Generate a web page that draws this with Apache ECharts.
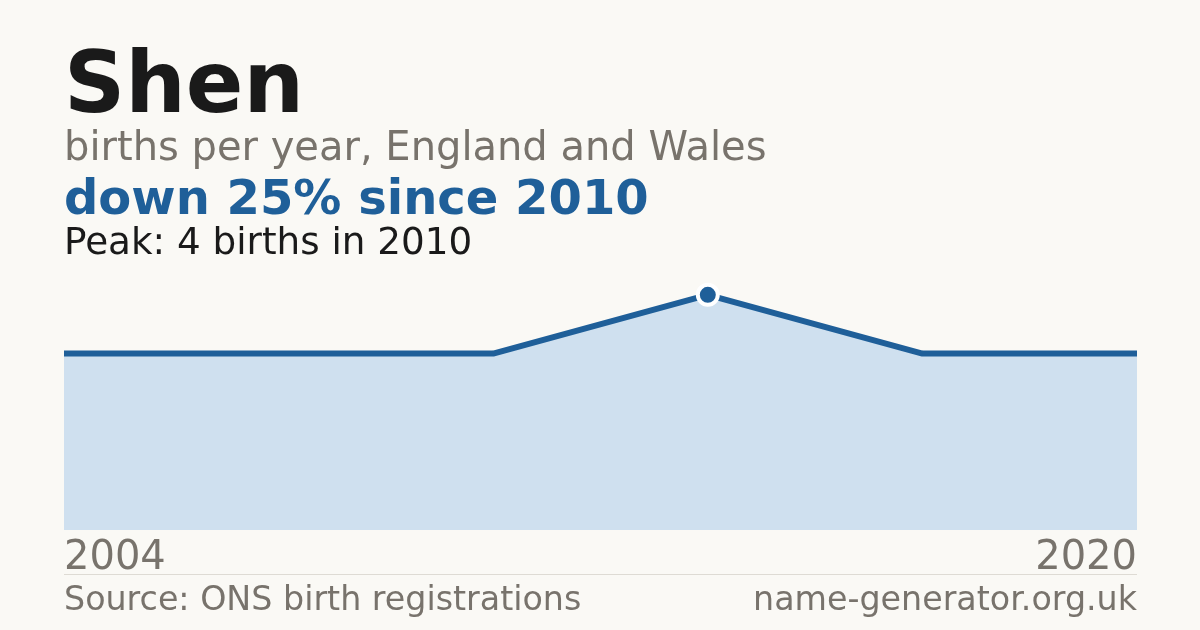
<!DOCTYPE html>
<html>
<head>
<meta charset="utf-8">
<script src="https://cdn.jsdelivr.net/npm/echarts@6/dist/echarts.min.js"></script>
<style>
html,body{margin:0;padding:0;background:#faf9f5;}
#c{width:1200px;height:630px;}
</style>
</head>
<body>
<div id="c"></div>
<script>
var years = ["2004", "2007", "2009", "2010", "2014", "2020"];
var births = [3, 3, 3, 4, 3, 3];
var peakIndex = 3;
var titleText = "Shen";
var subtitleText = "births per year, England and Wales";
var changeText = "down 25% since 2010";
var peakText = "Peak: 4 births in 2010";
var sourceText = "Source: ONS birth registrations";
var siteText = "name-generator.org.uk";

var FONT = "DejaVu Sans";
var BLUE = "#1f5f99";
var GRAY = "#78736c";

var chart = echarts.init(document.getElementById('c'), null, {renderer: 'canvas'});
var seriesData = births.map(function (v, i) {
  if (i === peakIndex) {
    return {value: v, symbol: 'circle', symbolSize: 20,
      itemStyle: {color: BLUE, borderColor: '#ffffff', borderWidth: 4}};
  }
  return {value: v, symbol: 'none'};
});

chart.setOption({
  backgroundColor: '#faf9f5',
  animation: false,
  grid: {left: 64, right: 63, top: 236, bottom: 100},
  xAxis: {
    type: 'category',
    data: years,
    boundaryGap: false,
    axisLine: {show: false},
    axisTick: {show: false},
    splitLine: {show: false},
    axisLabel: {
      interval: function (i) { return i === 0 || i === years.length - 1; },
      fontFamily: FONT, fontSize: 40, color: GRAY, margin: 9,
      alignMinLabel: 'left', alignMaxLabel: 'right'
    }
  },
  yAxis: {
    type: 'value', min: 0, max: 5,
    show: false, splitLine: {show: false}
  },
  series: [{
    type: 'line',
    data: seriesData,
    showSymbol: true,
    lineStyle: {color: BLUE, width: 6},
    areaStyle: {color: '#cfe0ef', opacity: 1},
    z: 3
  }],
  graphic: [
    {type: 'text', left: 64, top: 47, style: {text: titleText, font: 'bold 85px "DejaVu Sans"', fill: '#1a1a1a'}},
    {type: 'text', left: 64, top: 130, style: {text: subtitleText, font: '40px "DejaVu Sans"', fill: GRAY}},
    {type: 'text', left: 64, top: 178, style: {text: changeText, font: 'bold 48px "DejaVu Sans"', fill: BLUE}},
    {type: 'text', left: 64, top: 226, style: {text: peakText, font: '37.3px "DejaVu Sans"', fill: '#1a1a1a'}},
    {type: 'rect', shape: {x: 64, y: 574, width: 1073, height: 1}, style: {fill: '#dedbd4'}},
    {type: 'text', left: 64, top: 585, style: {text: sourceText, font: '33.3px "DejaVu Sans"', fill: GRAY}},
    {type: 'text', right: 63, top: 585, style: {text: siteText, font: '33.3px "DejaVu Sans"', fill: GRAY}}
  ]
});
</script>
</body>
</html>
